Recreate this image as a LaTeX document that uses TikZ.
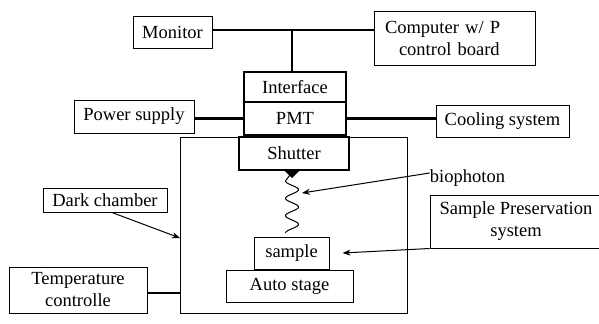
\documentclass[tikz,border=0pt]{standalone}
\usepackage{fontspec}
\setmainfont{Liberation Serif}
\usetikzlibrary{arrows.meta,calc}
\begin{document}
\begin{tikzpicture}[x=0.5pt,y=-0.5pt,
  box/.style={draw,line width=0.5pt,inner sep=0pt,fill=white,font=\fontsize{9.25}{11}\selectfont},
  tbox/.style={box,line width=1.3pt},
  wire/.style={line width=1.1pt},
  arr/.style={line width=0.5pt,-{Stealth[length=4pt,width=3pt]}},
  lbl/.style={inner sep=0pt,font=\fontsize{9.25}{11}\selectfont}]
\useasboundingbox (0,0) rectangle (599,323);
% chamber
\node[box,minimum width=113.5pt,minimum height=88pt] (chamber) at (293.5,225) {};
% top boxes
\node[box,minimum width=39.5pt,minimum height=16pt] (monitor) at (172.5,32) {Monitor};
\node[box,minimum width=80.5pt,minimum height=27pt,text width=69.5pt,align=left,inner xsep=5.5pt] (computer) at (454.5,38) {Computer w/ P\\\hspace*{7pt}control board};
\node[tbox,minimum width=51pt,minimum height=15pt] (interface) at (295,87) {Interface};
\node[tbox,minimum width=51pt,minimum height=16.5pt] (pmt) at (295,118.5) {PMT};
\node[tbox,minimum width=55pt,minimum height=16.5pt] (shutter) at (294,153.5) {Shutter};
\node[box,minimum width=60pt,minimum height=16.5pt] (power) at (134,116.5) {Power supply};
\node[box,minimum width=66.5pt,minimum height=16pt] (cooling) at (502.5,121) {Cooling system};
\node[box,minimum width=62pt,minimum height=12pt] (dark) at (105,200) {Dark chamber};
\node[box,minimum width=69pt,minimum height=23pt,align=center] (temp) at (78,290) {Temperature\\controlle};
\node[box,minimum width=63.5pt,minimum height=16pt] (stage) at (289.5,286) {Auto stage};
\node[box,minimum width=37.5pt,minimum height=16pt] (sample) at (291.5,253) {sample};
\node[box,minimum width=86pt,minimum height=26.5pt,align=center] (spres) at (516,221.5) {Sample Preservation\\system};
\node[lbl] (bio) at (467.5,178) {biophoton};
% wires
\coordinate (top) at (292,30);
\coordinate (ty) at (0,293);
\draw[wire] (monitor.east |- top) -- (computer.west |- top);
\draw[wire] (top) -- (top |- interface.north);
\draw[wire] (pmt.west) -- (pmt.west -| power.east);
\draw[wire] (pmt.east) -- (pmt.east -| cooling.west);
\draw[wire] (temp.east |- ty) -- (chamber.west |- ty);
% arrows
\coordinate (darkend) at (180,238);
\coordinate (bioend) at (302,193);
\draw[arr] ([xshift=3.5pt]dark.south) -- (darkend);
\draw[arr] ([yshift=2.5pt]bio.west) -- (bioend);
\draw[arr] (spres.south west) -- ([xshift=6.5pt]sample.east);
% biophoton wave
\coordinate (wtop) at (292,172);
\draw[line width=0.5pt] plot[smooth,domain=0:1,samples=60,variable=\t] ({292+6.5*sin(1080*\t-90)*(1-0.0*\t)},{233-52*\t}) -- (wtop);
\fill (285,171) -- (299,171) -- (292,178) -- cycle;
\end{tikzpicture}
\end{document}
